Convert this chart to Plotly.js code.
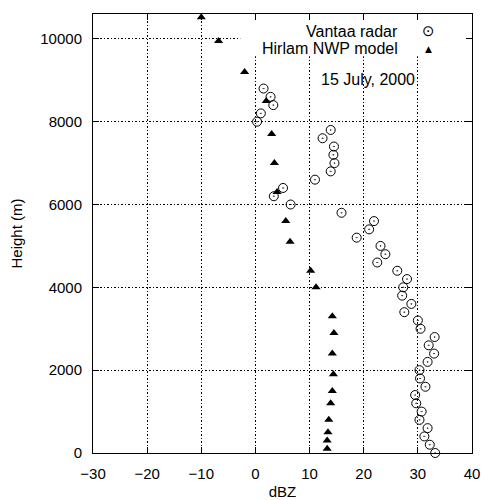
<!DOCTYPE html>
<html>
<head>
<meta charset="utf-8">
<script src="https://cdn.plot.ly/plotly-3.0.1.min.js"></script>
<style>html,body{margin:0;padding:0;background:#fff}</style>
</head>
<body>
<div id="chart" style="width:484px;height:500px"></div>
<script>
// Vantaa radar profile (dBZ vs height in m)
var radarHeight = [0,200,400,600,800,1000,1200,1400,1600,1800,2000,2200,2400,2600,2800,3000,3200,3400,3600,3800,4000,4200,4400,4600,4800,5000,5200,5400,5600,5800,6000,6200,6400,6600,6800,7000,7200,7400,7600,7800,8000,8200,8400,8600,8800];
var radarDbz = [33.2,32.2,31.2,31.8,30.3,30.7,29.7,29.5,31.4,30.4,30.3,31.8,33.0,32.0,33.1,30.5,30.0,27.5,28.8,27.1,27.3,28.0,26.2,22.5,24.0,23.1,18.7,21.0,21.9,15.9,6.5,3.4,5.1,11.0,13.9,14.6,14.4,14.5,12.4,13.9,0.3,1.0,3.3,2.8,1.5];

// Hirlam NWP model profile
var modelHeight = [100,300,500,800,1200,1500,1900,2400,2900,3300,4000,4400,5100,5600,6300,7000,7700,8500,9200,9950,10520];
var modelDbz = [13.25,13.25,13.4,13.55,13.9,14.2,14.4,14.2,14.5,14.2,11.2,10.2,6.4,5.6,4.0,3.5,3.0,2.0,-2.0,-6.8,-10.0];

var seriesNames = ["Vantaa radar", "Hirlam NWP model"];
var dateLabel = "15 July, 2000";
var xTitle = "dBZ";
var yTitle = "Height (m)";

var FONT = "Liberation Sans, Arial, Helvetica, sans-serif";

var traces = [
  {
    x: radarDbz, y: radarHeight, type: "scatter", mode: "markers", name: seriesNames[0],
    marker: {symbol: "circle-open-dot", size: 9, color: "#000", line: {color: "#000", width: 1}},
    cliponaxis: false, showlegend: false
  },
  {
    x: modelDbz, y: modelHeight, type: "scatter", mode: "markers", name: seriesNames[1],
    marker: {symbol: "triangle-up", size: 8, color: "#000"},
    cliponaxis: false, showlegend: false
  }
];

var axisCommon = {
  showline: true, linecolor: "#000", linewidth: 1, mirror: "ticks",
  ticks: "inside", ticklen: 6, tickcolor: "#000", tickwidth: 1,
  showgrid: true, gridcolor: "#000", gridwidth: 1, griddash: "1.5px,2px",
  zeroline: false, tickfont: {family: FONT, size: 15, color: "#000"}
};

var layout = {
  width: 484, height: 500,
  margin: {l: 93, r: 12, t: 14, b: 47},
  paper_bgcolor: "#fff", plot_bgcolor: "#fff",
  font: {family: FONT, color: "#000"},
  xaxis: Object.assign({}, axisCommon, {
    range: [-30, 40], dtick: 10, tick0: 0, ticklabelstandoff: 7,
    title: {text: xTitle, font: {family: FONT, size: 15, color: "#000"}, standoff: 6}
  }),
  yaxis: Object.assign({}, axisCommon, {
    range: [0, 10600], dtick: 2000, tick0: 0, tickformat: "d", ticklabelstandoff: 7,
    title: {text: yTitle, font: {family: FONT, size: 15, color: "#000"}, standoff: 14}
  }),
  shapes: [
    {type: "rect", xref: "x", yref: "y", x0: -2.8, x1: 40, y0: 9580, y1: 10600,
     fillcolor: "#fff", line: {width: 0}, layer: "between"}
  ],
  annotations: [
    {xref: "paper", yref: "paper", x: 0.81, y: 0.961, xanchor: "right", yanchor: "middle",
     text: seriesNames[0], showarrow: false, font: {family: FONT, size: 16, color: "#000"}},
    {xref: "paper", yref: "paper", x: 0.81, y: 0.9214, xanchor: "right", yanchor: "middle",
     text: seriesNames[1], showarrow: false, font: {family: FONT, size: 16, color: "#000"}},
    {xref: "paper", yref: "paper", x: 0.8865, y: 0.961, xanchor: "center", yanchor: "middle",
     text: "\u2299", showarrow: false, font: {family: "DejaVu Sans", size: 15, color: "#000"}},
    {xref: "paper", yref: "paper", x: 0.8865, y: 0.9214, xanchor: "center", yanchor: "middle",
     text: "\u25B2", showarrow: false, font: {family: "DejaVu Sans", size: 9, color: "#000"}},
    {xref: "paper", yref: "paper", x: 0.856, y: 0.8497, xanchor: "right", yanchor: "middle",
     text: dateLabel, showarrow: false, font: {family: FONT, size: 16, color: "#000"}}
  ]
};

Plotly.newPlot("chart", traces, layout, {staticPlot: true, displayModeBar: false});
</script>
</body>
</html>
